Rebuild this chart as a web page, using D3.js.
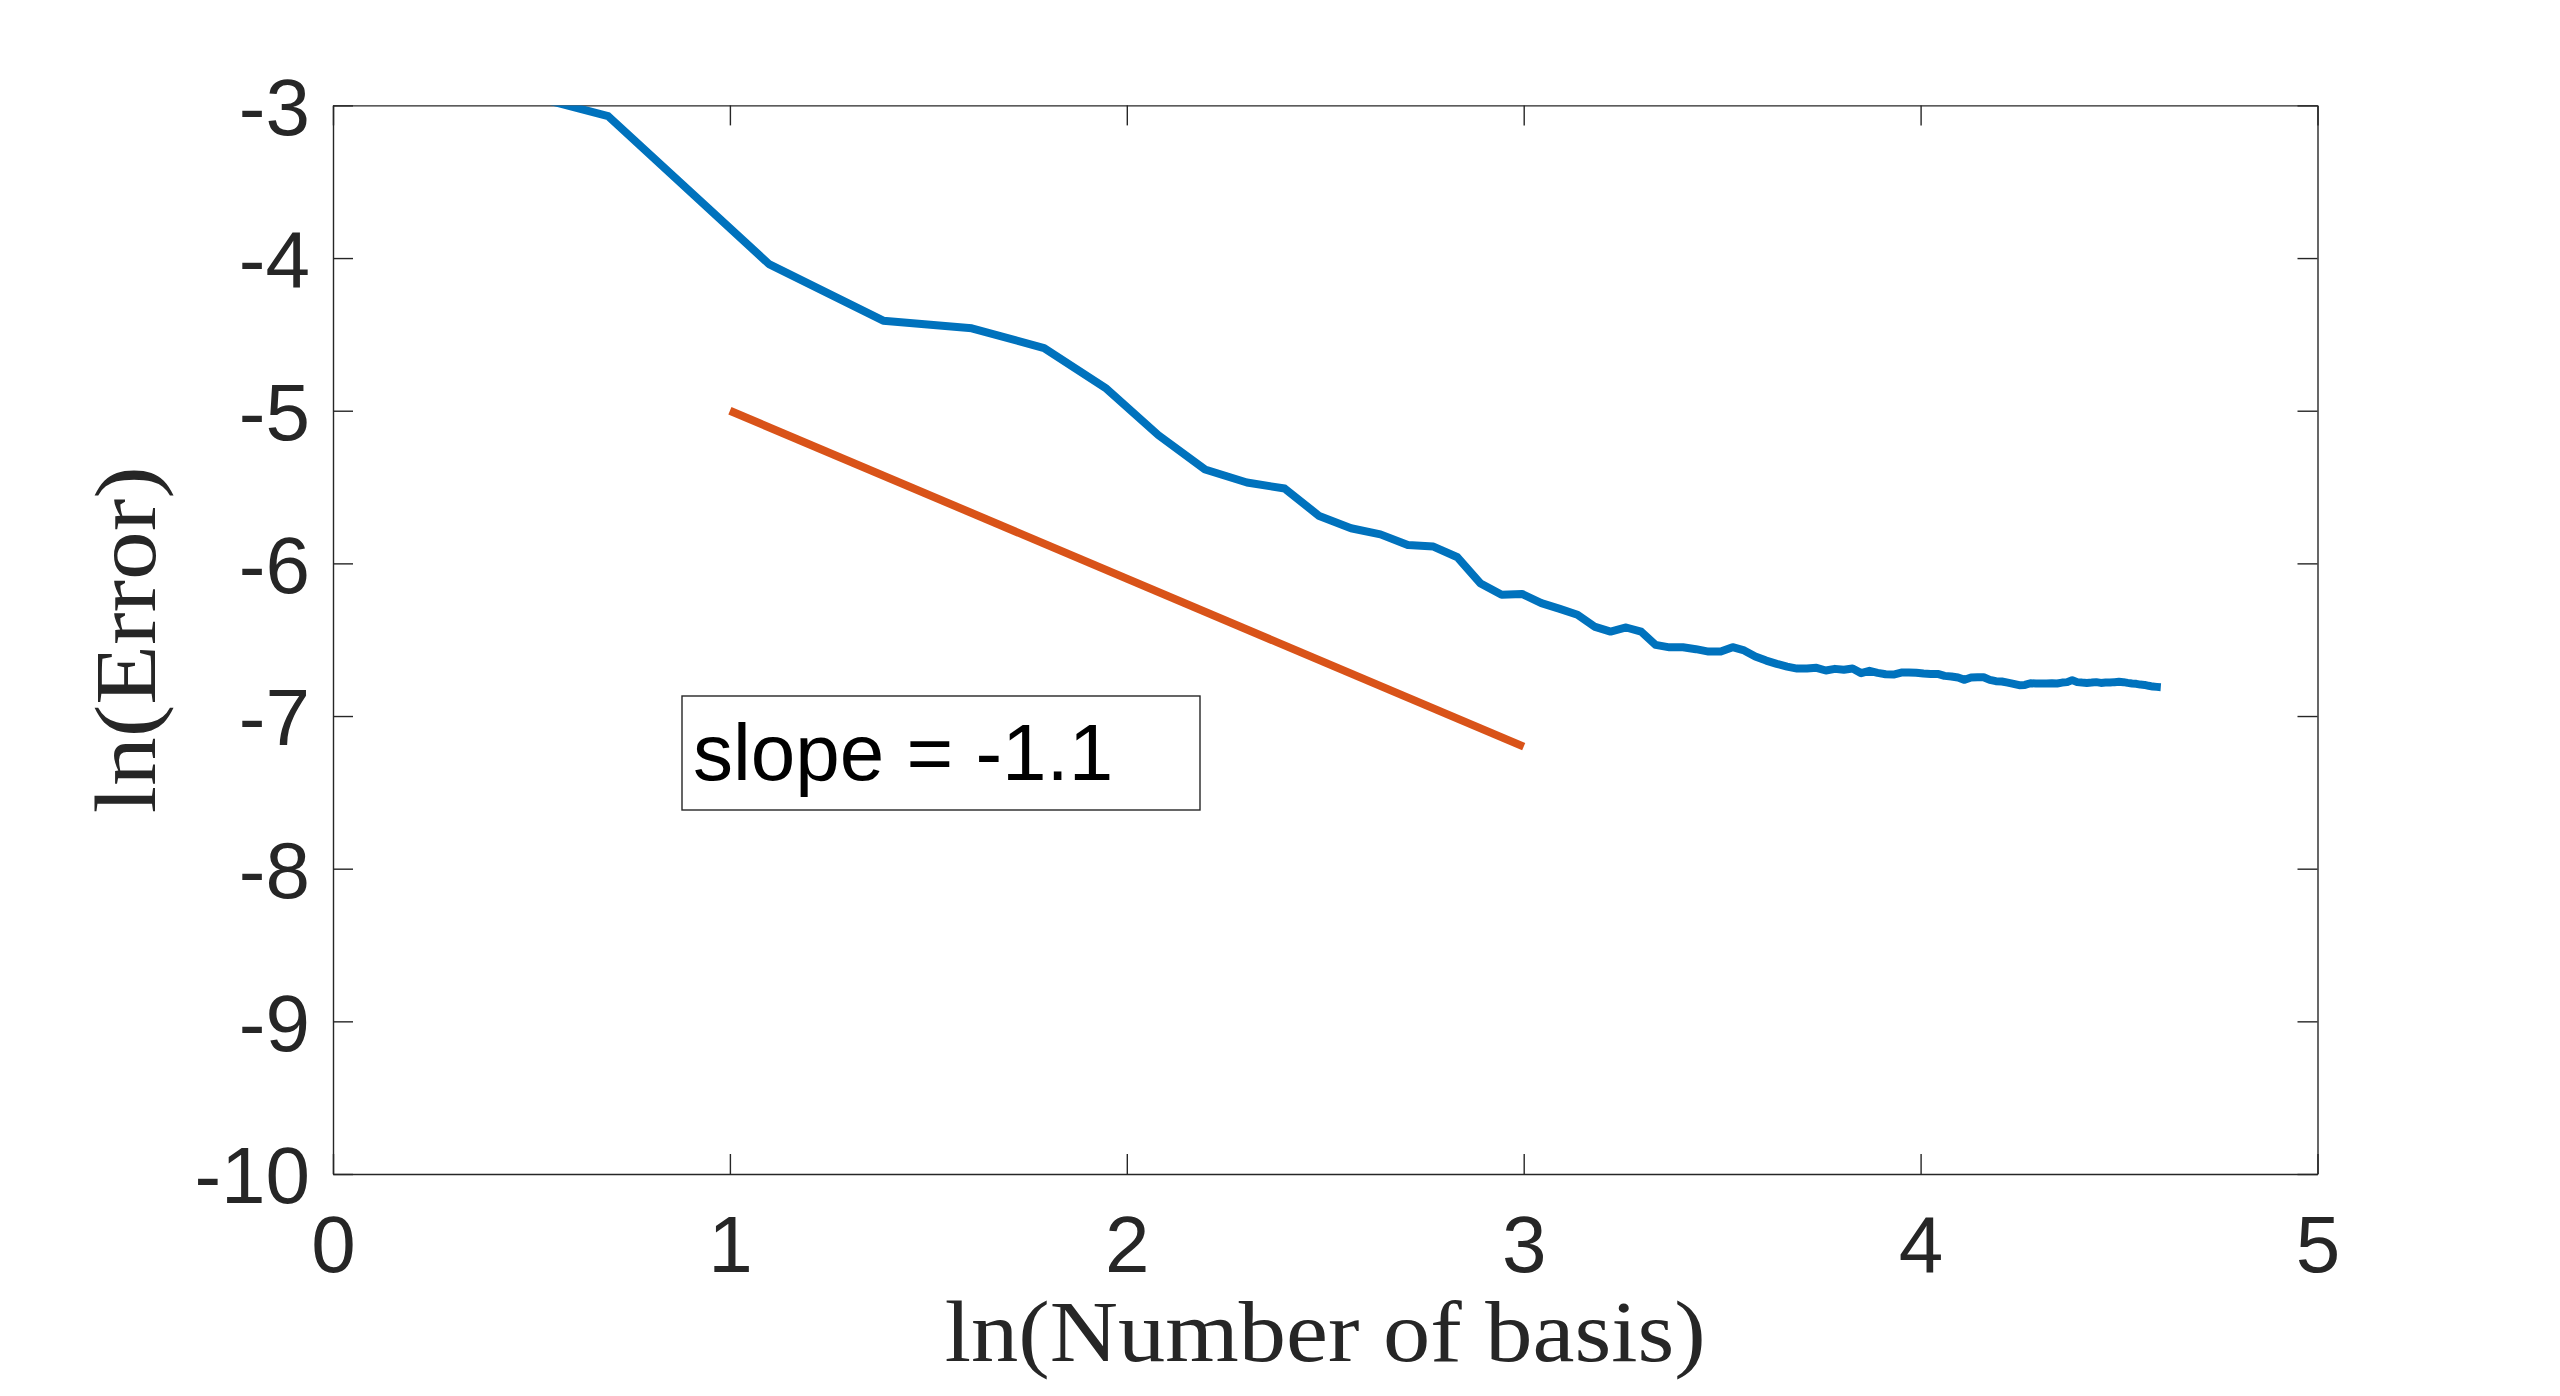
<!DOCTYPE html>
<html>
<head>
<meta charset="utf-8">
<script src="https://cdn.jsdelivr.net/npm/d3@7"></script>
<style>
  html, body { margin: 0; padding: 0; background: #fff; }
  svg { display: block; }
</style>
</head>
<body>
<div id="chart"></div>
<script>
// ln(Error) for 1..100 basis functions
var lnError = [
  -2.60, -3.07, -4.04, -4.41, -4.46, -4.59, -4.85, -5.16, -5.385, -5.47,
  -5.51, -5.69, -5.77, -5.81, -5.88, -5.89, -5.96, -6.13, -6.206, -6.20,
  -6.26, -6.298, -6.337, -6.414, -6.447, -6.42, -6.447, -6.534, -6.55, -6.55,
  -6.562, -6.578, -6.578, -6.549, -6.57, -6.61, -6.637, -6.658, -6.676, -6.689,
  -6.689, -6.684, -6.702, -6.691, -6.697, -6.689, -6.719, -6.704, -6.717, -6.726,
  -6.728, -6.715, -6.715, -6.717, -6.722, -6.724, -6.724, -6.737, -6.741, -6.748,
  -6.763, -6.748, -6.746, -6.746, -6.763, -6.772, -6.774, -6.781, -6.789, -6.798,
  -6.796, -6.785, -6.787, -6.787, -6.787, -6.785, -6.787, -6.781, -6.778, -6.765,
  -6.778, -6.781, -6.783, -6.781, -6.778, -6.783, -6.781, -6.781, -6.778, -6.776,
  -6.778, -6.783, -6.787, -6.789, -6.794, -6.796, -6.802, -6.807, -6.809, -6.811
];

// reference line, slope -1.1
var refX = [1, 3];
var refY = [-5, -7.2];
var slopeLabel = "slope = -1.1";

var xTicks = [0, 1, 2, 3, 4, 5];
var yTicks = [-10, -9, -8, -7, -6, -5, -4, -3];
var xDomain = [0, 5];
var yDomain = [-10, -3];

var width = 2560, height = 1396;
var margin = {left: 333, right: 242.5, top: 105.4, bottom: 222};
var plotW = width - margin.left - margin.right,
    plotH = height - margin.top - margin.bottom;
var axisColor = "#262626";

var svg = d3.select("#chart")
  .append("svg")
  .attr("width", width)
  .attr("height", height)
  .attr("viewBox", "0 0 " + width + " " + height);

var viewport = svg.append("g")
  .attr("transform", "translate(" + margin.left + "," + margin.top + ")");

var xScale = d3.scaleLinear().domain(xDomain).range([0, plotW]);
var yScale = d3.scaleLinear().domain(yDomain).range([plotH, 0]);

svg.append("defs").append("clipPath")
  .attr("id", "plot-clip")
  .append("rect")
    .attr("width", plotW)
    .attr("height", plotH);

// axes, ticks point inward
var fmt = function(d) { return String(d); };

var gx = viewport.append("g")
  .attr("transform", "translate(0," + plotH + ")")
  .call(d3.axisBottom(xScale).tickValues(xTicks).tickFormat(fmt)
    .tickSizeInner(-20).tickSizeOuter(0).tickPadding(41));

var gy = viewport.append("g")
  .call(d3.axisLeft(yScale).tickValues(yTicks).tickFormat(fmt)
    .tickSizeInner(-20).tickSizeOuter(0).tickPadding(23));

var gxTop = viewport.append("g")
  .call(d3.axisTop(xScale).tickValues(xTicks).tickFormat("")
    .tickSizeInner(-20).tickSizeOuter(0));

var gyRight = viewport.append("g")
  .attr("transform", "translate(" + plotW + ",0)")
  .call(d3.axisRight(yScale).tickValues(yTicks).tickFormat("")
    .tickSizeInner(-20).tickSizeOuter(0));

[gx, gy, gxTop, gyRight].forEach(function(g) {
  g.selectAll(".domain").attr("stroke", axisColor).attr("stroke-width", 1.4);
  g.selectAll(".tick line").attr("stroke", axisColor).attr("stroke-width", 1.4);
  g.selectAll(".tick text")
    .attr("fill", axisColor)
    .attr("font-family", "'Liberation Sans', Arial, Helvetica, sans-serif")
    .attr("font-size", 80);
});
gx.selectAll(".tick text").attr("dy", "0.71em");
gy.selectAll(".tick text").attr("dy", "0.36em");

// data lines
var lineGen = d3.line()
  .x(function(d) { return xScale(d[0]); })
  .y(function(d) { return yScale(d[1]); });

var errPoints = lnError.map(function(v, i) { return [Math.log(i + 1), v]; });
var refPoints = refX.map(function(v, i) { return [v, refY[i]]; });

var lines = viewport.append("g").attr("clip-path", "url(#plot-clip)");

lines.append("path")
  .datum(errPoints)
  .attr("d", lineGen)
  .attr("fill", "none")
  .attr("stroke", "#0072BD")
  .attr("stroke-width", 8)
  .attr("stroke-linejoin", "round");

lines.append("path")
  .datum(refPoints)
  .attr("d", lineGen)
  .attr("fill", "none")
  .attr("stroke", "#D95319")
  .attr("stroke-width", 8);

// text box
var box = viewport.append("g")
  .attr("transform", "translate(" + (682 - margin.left) + "," + (696 - margin.top) + ")");
box.append("rect")
  .attr("width", 518)
  .attr("height", 114)
  .attr("fill", "#fff")
  .attr("stroke", axisColor)
  .attr("stroke-width", 1.4);
box.append("text")
  .attr("x", 11)
  .attr("y", 84)
  .attr("font-family", "'Liberation Sans', Arial, Helvetica, sans-serif")
  .attr("font-size", 80)
  .attr("fill", "#000")
  .text(slopeLabel);

// axis titles (LaTeX look)
svg.append("text")
  .attr("x", margin.left + plotW / 2)
  .attr("y", 1361)
  .attr("text-anchor", "middle")
  .attr("font-family", "'Liberation Serif', 'DejaVu Serif', serif")
  .attr("font-size", 86)
  .attr("fill", axisColor)
  .attr("textLength", 761)
  .attr("lengthAdjust", "spacingAndGlyphs")
  .text("ln(Number of basis)");

svg.append("text")
  .attr("transform", "translate(155," + (margin.top + plotH / 2) + ") rotate(-90)")
  .attr("text-anchor", "middle")
  .attr("font-family", "'Liberation Serif', 'DejaVu Serif', serif")
  .attr("font-size", 86)
  .attr("fill", axisColor)
  .attr("textLength", 347)
  .attr("lengthAdjust", "spacingAndGlyphs")
  .text("ln(Error)");
</script>
</body>
</html>
